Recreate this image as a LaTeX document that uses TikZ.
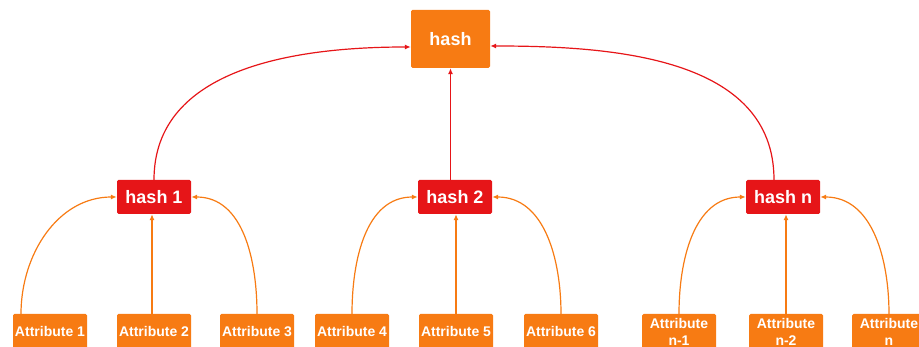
\documentclass[tikz,border=0pt]{standalone}
\usepackage{fontspec}
\setmainfont{Liberation Sans}
\usetikzlibrary{arrows.meta}
\definecolor{hashorange}{HTML}{F77B13}
\definecolor{hashred}{HTML}{E61518}

\begin{document}
\begin{tikzpicture}[x=1pt,y=1pt,
  attr/.style={fill=hashorange,text=white,font=\bfseries\fontsize{14}{17}\selectfont,rounded corners=1.5pt,minimum width=74pt,minimum height=36pt,inner sep=0pt,align=center},
  hashbox/.style={fill=hashred,text=white,font=\bfseries\fontsize{18}{20}\selectfont,rounded corners=1.5pt,minimum width=74pt,minimum height=34pt,inner sep=0pt},
  link/.style={draw=hashorange,line width=1.2pt,-{Latex[length=6pt,width=5pt]}},
  redlink/.style={link,draw=hashred}]
\useasboundingbox (0,0) rectangle (919,347);
% top hash
\node[hashbox,fill=hashorange,minimum width=79pt,minimum height=58pt] (hash) at (450.5,308) {hash};
% middle hashes
\node[hashbox] (h1) at (154,150) {hash 1};
\node[hashbox] (h2) at (455,150) {hash 2};
\node[hashbox] (hn) at (783,150) {hash n};
% attributes
\node[attr] (a1) at (50,15) {Attribute 1};
\node[attr] (a2) at (154,15) {Attribute 2};
\node[attr] (a3) at (257,15) {Attribute 3};
\node[attr] (a4) at (352,15) {Attribute 4};
\node[attr] (a5) at (456,15) {Attribute 5};
\node[attr] (a6) at (561,15) {Attribute 6};
\node[attr] (an1) at (679,15) {Attribute\\n-1};
\node[attr] (an2) at (786,15) {Attribute\\n-2};
\node[attr] (an) at (889,15) {Attribute\\n};
% attributes to hashes
\draw[link] ([xshift=-29pt]a1.north) to[out=90,in=180] (h1.west);
\draw[link] ([xshift=-2pt]a2.north) -- ([xshift=-2pt]h1.south);
\draw[link] (a3.north) to[out=90,in=0] (h1.east);
\draw[link] (a4.north) to[out=90,in=180] (h2.west);
\draw[link] (a5.north) -- (a5.north |- h2.south);
\draw[link] (a6.north) to[out=90,in=0] (h2.east);
\draw[link] (an1.north) to[out=90,in=180] (hn.west);
\draw[link] (an2.north) -- (an2.north |- hn.south);
\draw[link] (an.north) to[out=90,in=0] (hn.east);
% hashes to top hash
\draw[redlink] (h1.north) to[out=90,in=180] ([yshift=-8pt]hash.west);
\draw[redlink] (h2.north -| hash.south) -- (hash.south);
\draw[redlink] ([xshift=-9pt]hn.north) to[out=90,in=0] ([yshift=-7pt]hash.east);
\end{tikzpicture}
\end{document}
